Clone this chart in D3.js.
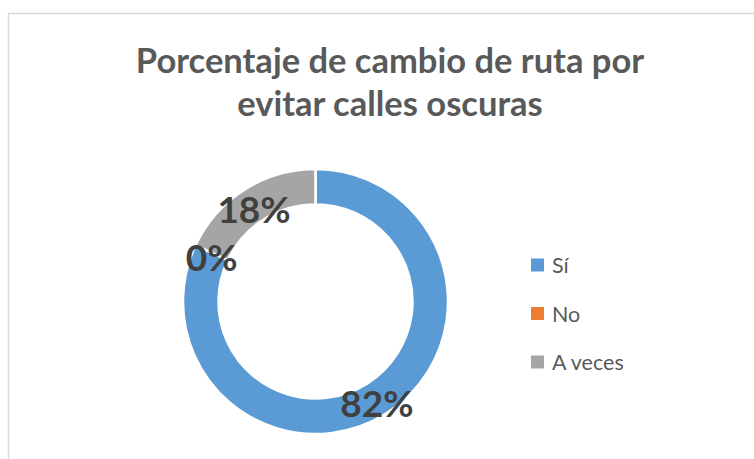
<!DOCTYPE html>
<html>
<head>
<meta charset="utf-8">
<script src="https://cdn.jsdelivr.net/npm/d3@7"></script>
<style>
  body { margin: 0; background: #ffffff; }
  svg { display: block; }
</style>
</head>
<body>
<div class="svg"></div>
<script>
var categories = ["Sí", "No", "A veces"];
var values = [82, 0, 18];
var colors = ["#5B9BD5", "#ED7D31", "#A5A5A5"];
var titleLines = ["Porcentaje de cambio de ruta por", "evitar calles oscuras"];

function donutChart(settings) {
  var k;
  for (k in donutChart.defaults) { this[k] = donutChart.defaults[k]; }
  for (k in settings) { this[k] = settings[k]; }
  this.appendSvg('div.svg');
  this.drawFrame();
  this.drawTitle();
  this.drawDonut();
  this.drawLegend();
}

donutChart.defaults = {
  'svg_width': 754,
  'svg_height': 459,
  'cx': 315.5,
  'cy': 301.5,
  'outer': 132.5,
  'inner': 97
};

donutChart.prototype.appendSvg = function (selector) {
  this.svg = d3.select(selector || 'body')
    .append('svg')
    .attr('width', this.svg_width)
    .attr('height', this.svg_height);
};

donutChart.prototype.drawFrame = function () {
  this.svg.append('rect')
    .attr('x', 8.5)
    .attr('y', 13.5)
    .attr('width', this.svg_width)
    .attr('height', this.svg_height)
    .attr('fill', 'none')
    .attr('stroke', '#d9d9d9')
    .attr('stroke-width', 1.5);
};

donutChart.prototype.drawTitle = function () {
  this.svg.selectAll('text.title')
    .data(titleLines)
    .enter()
    .append('text')
    .attr('class', 'title')
    .attr('x', 390)
    .attr('y', function (d, i) { return 73 + i * 43; })
    .attr('text-anchor', 'middle')
    .attr('font-family', 'Lato, sans-serif')
    .attr('font-weight', 'bold')
    .attr('font-size', '34.5px')
    .attr('fill', '#595959')
    .text(function (d) { return d; });
};

donutChart.prototype.drawDonut = function () {
  var pie = d3.pie().sort(null).value(function (d) { return d; });
  var arcs = pie(values);
  var arc = d3.arc().innerRadius(this.inner).outerRadius(this.outer);
  var mid = (this.inner + this.outer) / 2;
  var labelArc = d3.arc().innerRadius(mid).outerRadius(mid);
  var total = d3.sum(values);

  var g = this.svg.append('g')
    .attr('transform', 'translate(' + this.cx + ',' + this.cy + ')');

  g.selectAll('path')
    .data(arcs)
    .enter()
    .append('path')
    .attr('d', arc)
    .attr('fill', function (d, i) { return colors[i]; })
    .attr('stroke', '#ffffff')
    .attr('stroke-width', 2.5);

  g.selectAll('text')
    .data(arcs)
    .enter()
    .append('text')
    .attr('transform', function (d) {
      var c = labelArc.centroid(d);
      return 'translate(' + c[0] + ',' + (c[1] + 4) + ')';
    })
    .attr('text-anchor', 'middle')
    .attr('dominant-baseline', 'central')
    .attr('font-family', 'Lato, sans-serif')
    .attr('font-weight', 'bold')
    .attr('font-size', '37px')
    .attr('fill', '#404040')
    .text(function (d) { return Math.round(d.data / total * 100) + '%'; });
};

donutChart.prototype.drawLegend = function () {
  var y = d3.scalePoint().domain(categories).range([265, 362]);
  var items = this.svg.selectAll('g.legend')
    .data(categories)
    .enter()
    .append('g')
    .attr('class', 'legend')
    .attr('transform', function (d) { return 'translate(531,' + y(d) + ')'; });

  items.append('rect')
    .attr('x', 0)
    .attr('y', -6.5)
    .attr('width', 13)
    .attr('height', 13)
    .attr('fill', function (d, i) { return colors[i]; });

  items.append('text')
    .attr('x', 21)
    .attr('y', 0)
    .attr('dominant-baseline', 'central')
    .attr('font-family', 'Lato, sans-serif')
    .attr('font-size', '21.5px')
    .attr('fill', '#595959')
    .text(function (d) { return d; });
};

new donutChart({});
</script>
</body>
</html>
